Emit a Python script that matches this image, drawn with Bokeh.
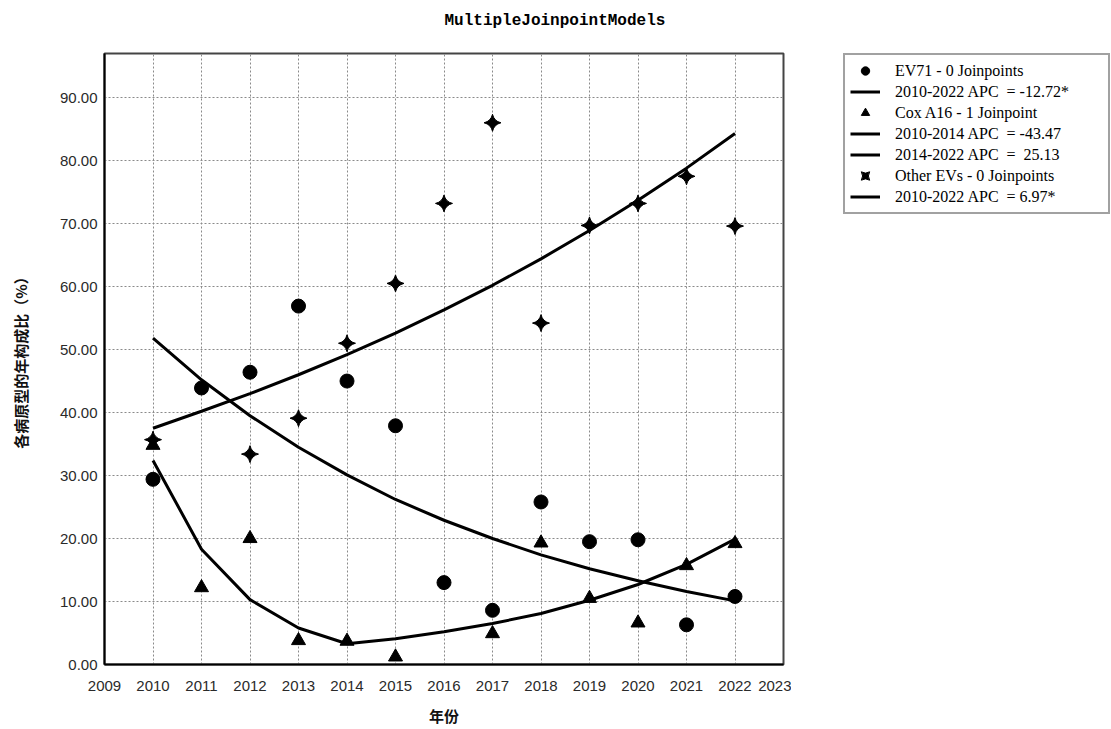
import math
from bokeh.plotting import figure
from bokeh.layouts import row
from bokeh.models import Legend, LegendItem, FixedTicker, NumeralTickFormatter, Range1d
from bokeh.embed import file_html
from bokeh.resources import INLINE

nan = float("nan")

years = [2010, 2011, 2012, 2013, 2014, 2015, 2016, 2017, 2018, 2019, 2020, 2021, 2022]
ev71 = [29.4, 43.9, 46.4, 56.9, 45.0, 37.9, 13.0, 8.6, 25.8, 19.5, 19.8, 6.3, 10.8]
coxa16 = [34.8, 12.2, 20.0, 3.8, 3.7, 1.2, nan, 4.9, 19.3, 10.5, 6.6, 15.7, 19.2]
other = [35.7, nan, 33.4, 39.1, 51.0, 60.5, 73.2, 86.0, 54.2, 69.7, 73.2, 77.5, 69.6]

ev71_fit = [51.8, 45.2, 39.5, 34.5, 30.1, 26.2, 22.9, 20.0, 17.4, 15.2, 13.3, 11.6, 10.1]
cox_years1 = [2010, 2011, 2012, 2013, 2014]
cox_fit1 = [32.4, 18.3, 10.3, 5.8, 3.3]
cox_years2 = [2014, 2015, 2016, 2017, 2018, 2019, 2020, 2021, 2022]
cox_fit2 = [3.3, 4.1, 5.2, 6.5, 8.1, 10.2, 12.7, 15.9, 19.9]
other_fit = [37.5, 40.2, 43.0, 46.0, 49.2, 52.6, 56.3, 60.2, 64.4, 68.9, 73.7, 78.8, 84.3]

x_ticks = list(range(2009, 2024))
y_ticks = [0, 10, 20, 30, 40, 50, 60, 70, 80, 90]

legend_labels = [
    "EV71 - 0 Joinpoints",
    "2010-2022 APC  = -12.72*",
    "Cox A16 - 1 Joinpoint",
    "2010-2014 APC  = -43.47",
    "2014-2022 APC  =  25.13",
    "Other EVs - 0 Joinpoints",
    "2010-2022 APC  = 6.97*",
]

title_text = "MultipleJoinpointModels"
x_label = "年份"
y_label = "各病原型的年构成比（%）"

H = 728
W1 = 791
W2 = 1110 - W1

p = figure(width=W1, height=H, output_backend="svg", toolbar_location=None,
           x_range=Range1d(2009, 2023), y_range=Range1d(0, 97),
           min_border_left=104, min_border_right=W1 - 783, min_border_top=53, min_border_bottom=H - 665)
p.background_fill_color = "white"
p.border_fill_color = "white"
p.outline_line_color = "#444444"
p.outline_line_width = 2

# second (blank) line gives the title panel extra height so the text sits higher
p.title.text = title_text + "\n "
p.title.align = "left"
p.title.offset = 340
p.title.standoff = 8
p.title.vertical_align = "top"
p.title.text_font = "Liberation Mono"
p.title.text_font_style = "bold"
p.title.text_font_size = "16px"
p.title.text_color = "black"

lw = 3
line_style = dict(line_color="black", line_width=lw)
l_ev = p.line(years, ev71_fit, **line_style)
l_c1 = p.line(cox_years1, cox_fit1, **line_style)
l_c2 = p.line(cox_years2, cox_fit2, **line_style)
l_ot = p.line(years, other_fit, **line_style)

circ = dict(marker="circle", size=14, color="black")
tri = dict(marker="triangle", size=14, color="black")
star = dict(marker="square_pin", size=12, angle=math.pi / 4, color="black")
r_ev = p.scatter(years, ev71, **circ)
r_cx = p.scatter(years, coxa16, **tri)
r_ot = p.scatter(years, other, **star)

tick_font = "Liberation Sans"
for ax in (p.xaxis[0], p.yaxis[0]):
    ax.major_tick_out = 0
    ax.major_tick_in = 0
    ax.minor_tick_out = 0
    ax.minor_tick_in = 0
    ax.axis_line_color = "black"
    ax.axis_line_width = 2
    ax.major_label_text_font = tick_font
    ax.major_label_text_font_size = "15px"
    ax.major_label_text_color = "#2a2a2a"
    ax.axis_label_text_font = "Noto Sans CJK SC"
    ax.axis_label_text_font_style = "bold"
    ax.axis_label_text_color = "#111111"

p.xaxis[0].ticker = FixedTicker(ticks=x_ticks)
p.yaxis[0].ticker = FixedTicker(ticks=y_ticks)
p.yaxis[0].formatter = NumeralTickFormatter(format="0.00")
p.xaxis[0].axis_label = x_label
p.yaxis[0].axis_label = y_label
p.xaxis[0].axis_label_text_font_size = "15px"
p.yaxis[0].axis_label_text_font_size = "15px"
p.xaxis[0].major_label_standoff = 16
p.xaxis[0].axis_label_standoff = 11
p.yaxis[0].major_label_standoff = 7
p.yaxis[0].axis_label_standoff = 26

for g in (p.xgrid[0], p.ygrid[0]):
    g.grid_line_color = "#8a8a8a"
    g.grid_line_dash = "2 2"
    g.grid_line_width = 1

# legend panel
q = figure(width=W2, height=H, output_backend="svg", toolbar_location=None,
           x_range=Range1d(0, 1), y_range=Range1d(0, 1), x_axis_type=None, y_axis_type=None,
           min_border_left=52, min_border_right=0, min_border_top=47, min_border_bottom=0)
q.outline_line_color = None
q.background_fill_color = "white"
q.border_fill_color = "white"
q.grid.visible = False

# placeholder renderers (NaN data: nothing drawn, only legend glyphs)
d_ev = q.scatter([nan], [nan], **circ)
d_lev = q.line([nan, nan], [nan, nan], **line_style)
d_cx = q.scatter([nan], [nan], **tri)
d_lc1 = q.line([nan, nan], [nan, nan], **line_style)
d_lc2 = q.line([nan, nan], [nan, nan], **line_style)
d_ot = q.scatter([nan], [nan], **star)
d_lot = q.line([nan, nan], [nan, nan], **line_style)

renderers = [d_ev, d_lev, d_cx, d_lc1, d_lc2, d_ot, d_lot]
items = [LegendItem(label=lab, renderers=[r]) for lab, r in zip(legend_labels, renderers)]
legend = Legend(items=items, location="top_left", margin=0, padding=5, spacing=0,
                label_height=21, glyph_height=21, glyph_width=30, label_standoff=15,
                label_width=208, label_text_font="Liberation Serif", label_text_font_size="16px",
                label_text_color="black", border_line_color="#444444", border_line_width=2,
                background_fill_color="white", background_fill_alpha=1.0)
q.add_layout(legend)

layout = row(p, q)
open("out.html", "w").write(file_html(layout, INLINE))
